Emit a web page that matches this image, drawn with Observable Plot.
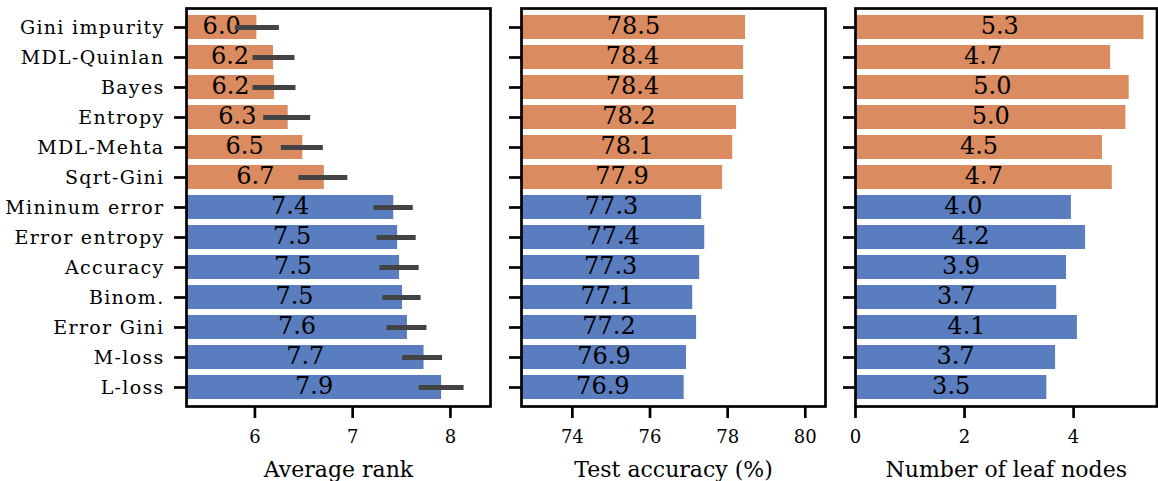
<!DOCTYPE html>
<html><head><meta charset="utf-8">
<script src="https://cdn.jsdelivr.net/npm/d3@7"></script>
<script src="https://cdn.jsdelivr.net/npm/@observablehq/plot@0.6"></script>
<style>
body{margin:0;background:#fff;}
#chart{position:relative;width:1158px;height:481px;overflow:hidden;}
#chart svg{position:absolute;top:0;}
#chart svg, #chart svg g, #chart svg text{font-family:"DejaVu Serif" !important;}
g[aria-label="y-axis tick label"] text{font-size:19px !important;letter-spacing:1.3px;}
g[aria-label="x-axis tick label"] text{font-size:18px !important;letter-spacing:0px;}
g[aria-label="x-axis label"] text{font-size:22px !important;letter-spacing:0px;}
g[aria-label="text"] text{font-size:24px !important;}
</style></head><body><div id="chart"></div>
<script>
const methods = ["Gini impurity","MDL-Quinlan","Bayes","Entropy","MDL-Mehta","Sqrt-Gini","Mininum error","Error entropy","Accuracy","Binom.","Error Gini","M-loss","L-loss"];
const isSplit = [true,true,true,true,true,true,false,false,false,false,false,false,false];
const avgRank = [6.02,6.19,6.20,6.34,6.49,6.71,7.42,7.46,7.48,7.51,7.56,7.73,7.91];
const rankLo  = [5.80,5.98,5.98,6.09,6.27,6.45,7.22,7.25,7.28,7.31,7.35,7.51,7.68];
const rankHi  = [6.25,6.41,6.42,6.57,6.70,6.95,7.62,7.65,7.68,7.70,7.76,7.92,8.14];
const testAcc = [78.46,78.41,78.41,78.23,78.13,77.87,77.33,77.41,77.28,77.10,77.20,76.94,76.88];
const leafNodes = [5.29,4.68,5.02,4.96,4.53,4.71,3.96,4.22,3.87,3.69,4.07,3.67,3.51];
const rankTicks = [6,7,8];
const accTicks = [74,76,78,80];
const leafTicks = [0,2,4];
const orange = "#da8b5f", blue = "#597dbf";

function panel(o) {
  const data = methods.map((m,i)=>({m, s: isSplit[i], v: o.values[i], lo: o.lo ? o.lo[i] : null, hi: o.hi ? o.hi[i] : null}));
  const marks = [
    Plot.barX(data.filter(d=>d.s), {x: "v", y: "m", fill: orange, clip: true}),
    Plot.barX(data.filter(d=>!d.s), {x: "v", y: "m", fill: blue, clip: true}),
    Plot.text(data, {x: d => (o.domain[0] + d.v) / 2, y: "m", text: d => d.v.toFixed(1), fill: "black", lineAnchor: "middle", dy: -1})
  ];
  if (o.lo) marks.push(Plot.ruleY(data, {y: "m", x1: "lo", x2: "hi", stroke: "#434343", strokeWidth: 5}));
  marks.push(Plot.axisY({tickSize: 12, strokeWidth: 2.7, tickPadding: 10, tickFormat: o.showY ? (d => d) : (() => ""), label: null}));
  marks.push(Plot.axisX({ticks: o.ticks, tickFormat: d => String(d), tickSize: 12, strokeWidth: 2.7, tickPadding: 12, label: o.label, labelArrow: "none", labelAnchor: "center", labelOffset: 70}));
  marks.push(Plot.frame({stroke: "black", strokeWidth: 2.7}));
  const svg = Plot.plot({
    width: o.width, height: 481,
    marginLeft: o.mL, marginRight: o.mR, marginTop: 8, marginBottom: 75,
    x: {domain: o.domain},
    y: {domain: methods, paddingInner: 0.2, paddingOuter: 0.1},
    style: {fontSize: "20px", color: "black", background: "transparent"},
    marks
  });
  svg.style.left = o.left + "px";
  document.getElementById("chart").appendChild(svg);
}

panel({left: 0, width: 492, mL: 186, mR: 2, values: avgRank, lo: rankLo, hi: rankHi, domain: [5.30, 8.41], ticks: rankTicks, label: "Average rank", showY: true});
panel({left: 492, width: 336, mL: 29, mR: 3, values: testAcc, domain: [72.69, 80.52], ticks: accTicks, label: "Test accuracy (%)", showY: false});
panel({left: 828, width: 330, mL: 27, mR: 1.5, values: leafNodes, domain: [0, 5.53], ticks: leafTicks, label: "Number of leaf nodes", showY: false});
</script></body></html>
